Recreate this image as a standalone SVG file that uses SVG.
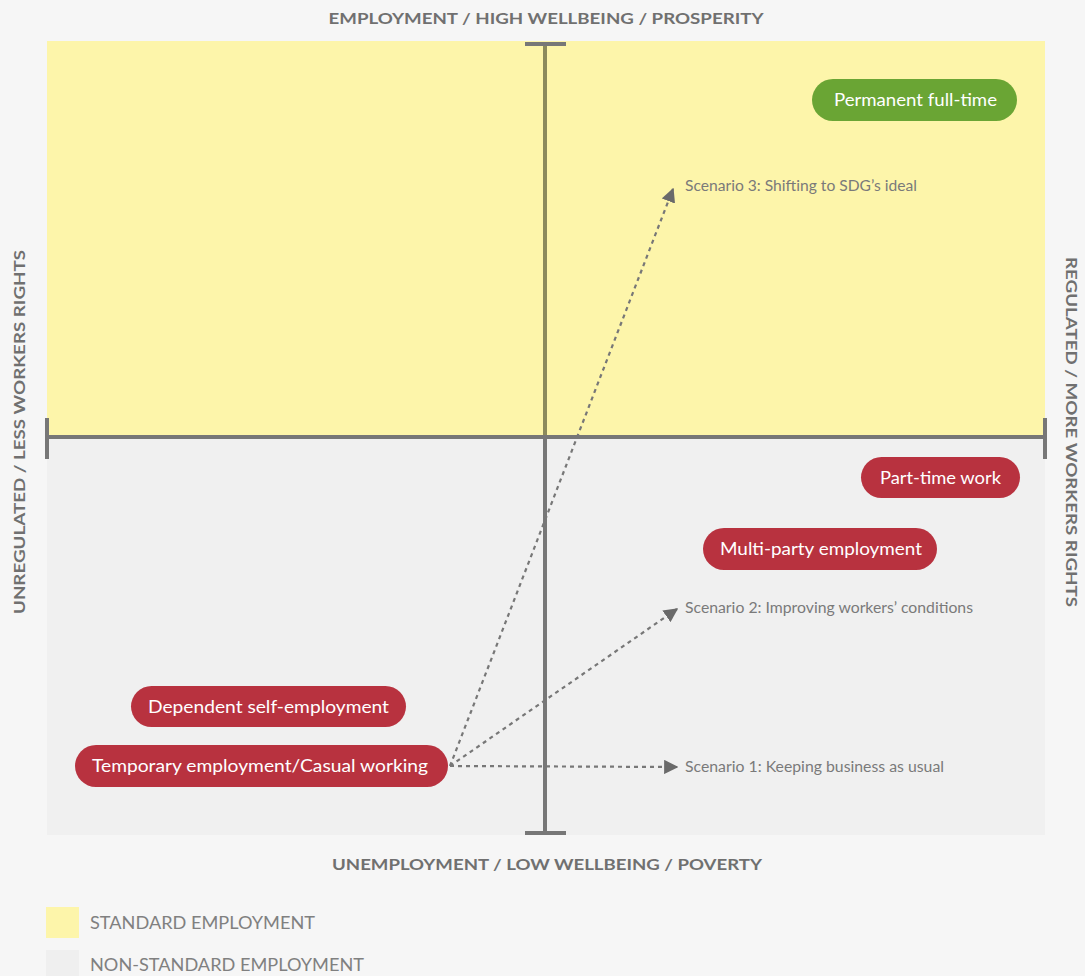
<svg xmlns="http://www.w3.org/2000/svg" width="1085" height="976" viewBox="0 0 1085 976">
<defs>
<style>
.axl{font-family:Lato,"Noto Sans",sans-serif;font-weight:bold;font-size:16px;fill:#707070;text-anchor:middle}
.pill text{font-family:Lato,"Noto Sans",sans-serif;font-size:18px;fill:#fff;text-anchor:middle}
.red{fill:#b8323f}
.green{fill:#6aa534}
.sc{font-family:Lato,"Noto Sans",sans-serif;font-size:14.5px;fill:#7a7a7a}
.lg{font-family:Lato,"Noto Sans",sans-serif;font-size:18px;fill:#808080}
.conn{fill:none;stroke:#777;stroke-width:2.2;stroke-dasharray:4 4}
.axis{stroke:#777;stroke-width:4;fill:none}
</style>
<marker id="ah" viewBox="0 0 10 10" refX="9" refY="5" markerWidth="6.5" markerHeight="6.5" markerUnits="strokeWidth" orient="auto">
<path d="M0,0 L10,5 L0,10 z" fill="#6a6a6a"/>
</marker>
</defs>
<rect width="1085" height="976" fill="#f6f6f6"/>
<rect x="47" y="41" width="998" height="396" fill="#fdf5aa"/>
<rect x="47" y="437" width="998" height="398" fill="#f0f0f0"/>
<g id="axes">
<line class="axis" x1="545" y1="44" x2="545" y2="437" style="stroke:#8c8a5c"/>
<line class="axis" x1="545" y1="437" x2="545" y2="833"/>
<line class="axis" x1="525" y1="44" x2="566" y2="44"/>
<line class="axis" x1="525" y1="833" x2="566" y2="833"/>
<line class="axis" x1="47" y1="437" x2="1045" y2="437"/>
<line class="axis" x1="47" y1="418" x2="47" y2="459"/>
<line class="axis" x1="1045" y1="418" x2="1045" y2="459"/>
</g>
<g id="axis-labels">
<text class="axl" x="546" y="24" textLength="435" lengthAdjust="spacingAndGlyphs">EMPLOYMENT / HIGH WELLBEING / PROSPERITY</text>
<text class="axl" x="547" y="870" textLength="430" lengthAdjust="spacingAndGlyphs">UNEMPLOYMENT / LOW WELLBEING / POVERTY</text>
<text class="axl" transform="translate(25,432) rotate(-90)" textLength="364" lengthAdjust="spacingAndGlyphs">UNREGULATED / LESS WORKERS RIGHTS</text>
<text class="axl" transform="translate(1066,432) rotate(90)" textLength="350" lengthAdjust="spacingAndGlyphs">REGULATED / MORE WORKERS RIGHTS</text>
</g>
<g id="connectors">
<path class="conn" d="M450,766 L673,189" marker-end="url(#ah)"/>
<path class="conn" d="M450,766 L677,609" marker-end="url(#ah)"/>
<path class="conn" d="M450,766 L677,767" marker-end="url(#ah)"/>
</g>
<g id="permanent" class="pill">
<rect class="green" x="812" y="79" width="205" height="42" rx="21"/>
<text x="915.5" y="106" textLength="163" lengthAdjust="spacingAndGlyphs">Permanent full-time</text>
</g>
<g id="parttime" class="pill">
<rect class="red" x="861" y="457" width="159" height="41" rx="20.5"/>
<text x="940.5" y="484" textLength="121" lengthAdjust="spacingAndGlyphs">Part-time work</text>
</g>
<g id="multiparty" class="pill">
<rect class="red" x="703" y="528" width="234" height="42" rx="21"/>
<text x="821" y="555" textLength="202" lengthAdjust="spacingAndGlyphs">Multi-party employment</text>
</g>
<g id="dependent" class="pill">
<rect class="red" x="131" y="686" width="275" height="41" rx="20.5"/>
<text x="268.5" y="713" textLength="241" lengthAdjust="spacingAndGlyphs">Dependent self-employment</text>
</g>
<g id="temporary" class="pill">
<rect class="red" x="75" y="745" width="373" height="42" rx="21"/>
<text x="260" y="772" textLength="336" lengthAdjust="spacingAndGlyphs">Temporary employment/Casual working</text>
</g>
<g id="scenario-labels">
<text class="sc" x="685" y="191" textLength="232" lengthAdjust="spacingAndGlyphs">Scenario 3: Shifting to SDG’s ideal</text>
<text class="sc" x="685" y="613" textLength="288" lengthAdjust="spacingAndGlyphs">Scenario 2: Improving workers’ conditions</text>
<text class="sc" x="685" y="772" textLength="259" lengthAdjust="spacingAndGlyphs">Scenario 1: Keeping business as usual</text>
</g>
<g id="legend">
<rect x="46" y="907" width="33" height="31" fill="#fdf5aa"/>
<text class="lg" x="90" y="929" textLength="225" lengthAdjust="spacingAndGlyphs">STANDARD EMPLOYMENT</text>
<rect x="46" y="950" width="33" height="26" fill="#efefef"/>
<text class="lg" x="90" y="971" textLength="274" lengthAdjust="spacingAndGlyphs">NON-STANDARD EMPLOYMENT</text>
</g>
</svg>
